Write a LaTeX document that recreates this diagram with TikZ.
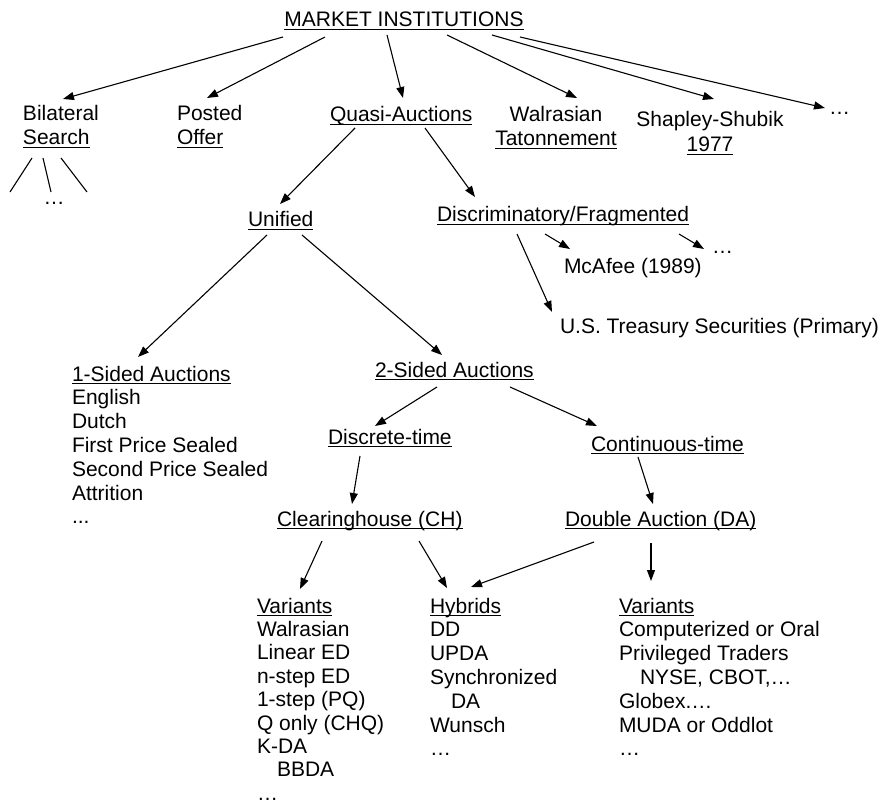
\documentclass[tikz,border=0pt]{standalone}
\usepackage{fontspec}
\setmainfont{Liberation Sans}
\usetikzlibrary{arrows.meta}
\newcommand\myul[1]{\setbox0=\hbox{#1}\rlap{\rule[-3pt]{\wd0}{1.2pt}}\box0}
\begin{document}
\begin{tikzpicture}[x=1pt,y=-1pt,
  t/.style={inner sep=0pt,outer sep=0pt,font=\fontsize{21}{23.8}\selectfont},
  tl/.style={t,anchor=base west,align=left},
  tc/.style={t,anchor=base,align=center},
  arr/.style={line width=1.1pt,-{Triangle[length=11pt,width=8pt]}},
  ln/.style={line width=1.1pt}]
\useasboundingbox (0,0) rectangle (884,805);
% nodes (multi-line bodies are placed at the baseline of their last line)
\node[tc] (mi) at (404,27) {\myul{MARKET INSTITUTIONS}};
\node[tl] (bil) at (23,121) {Bilateral};
\node[tl] (bils) at (23,145) {\myul{Search}};
\node[tl] (post) at (177,121) {Posted};
\node[tl] (posts) at (177,145) {\myul{Offer}};
\node[tl] (quasi) at (330,122) {\myul{Quasi-Auctions}};
\node[tc] (walr) at (556,122) {Walrasian};
\node[tc] (walrs) at (556,146) {\myul{Tatonnement}};
\node[tc] (shap) at (710,127) {Shapley-Shubik};
\node[tc] (shaps) at (710,152) {\myul{1977}};
\node[tl] (dotsa) at (829,115) {…};
\node[tc] (dotsb) at (54,205) {…};
\node[tl] (unif) at (248,227) {\myul{Unified}};
\node[tl] (discr) at (437,222) {\myul{Discriminatory/Fragmented}};
\node[tl] (mcafee) at (564,274) {McAfee (1989)};
\node[tl] (dotsc) at (712,254) {…};
\node[tl] (treas) at (560,334) {U.S. Treasury Securities (Primary)};
\node[tl] (ones) at (72,381) {\myul{1-Sided Auctions}};
\node[tl] (onesb) at (72,523.8) {English\\Dutch\\First Price Sealed\\Second Price Sealed\\Attrition\\...};
\node[tl] (twos) at (375,377) {\myul{2-Sided Auctions}};
\node[tl] (disc) at (328,444) {\myul{Discrete-time}};
\node[tl] (cont) at (591,451) {\myul{Continuous-time}};
\node[tl] (ch) at (277,526) {\myul{Clearinghouse (CH)}};
\node[tl] (da) at (565,526) {\myul{Double Auction (DA)}};
\node[tl] (varl) at (257,613) {\myul{Variants}};
\node[tl,font=\fontsize{21}{23.4}\selectfont] (varlb) at (257,800.2) {Walrasian\\Linear ED\\n-step ED\\1-step (PQ)\\Q only (CHQ)\\K-DA\\\hspace*{20pt}BBDA\\…};
\node[tl] (hyb) at (430,613) {\myul{Hybrids}};
\node[tl] (hybb) at (430,755.8) {DD\\UPDA\\Synchronized\\\hspace*{21pt}DA\\Wunsch\\…};
\node[tl] (varr) at (619,613) {\myul{Variants}};
\node[tl] (varrb) at (619,755.8) {Computerized or Oral\\Privileged Traders\\\hspace*{21pt}NYSE, CBOT,…\\Globex.…\\MUDA or Oddlot\\…};
% free ends of the bilateral search lines
\coordinate (sa) at (10,192);
\coordinate (sb) at (51,192);
\coordinate (sc) at (87,192);
% connectors
\draw[arr] ([shift={(-121,10)}]mi.base) -- ([shift={(40,-22)}]bil.base west);
\draw[arr] ([shift={(-79,10)}]mi.base) -- ([shift={(30,-23)}]post.base west);
\draw[arr] ([shift={(-17,8)}]mi.base) -- ([shift={(73,-24)}]quasi.base west);
\draw[arr] ([shift={(43,8)}]mi.base) -- ([shift={(21,-24)}]walr.base);
\draw[arr] ([shift={(88,8)}]mi.base) -- ([shift={(4,-28)}]shap.base);
\draw[arr] ([shift={(116,10)}]mi.base) -- ([shift={(-4,-7)}]dotsa.base west);
\draw[ln] ([shift={(9,13)}]bils.base west) -- (sa);
\draw[ln] ([shift={(20,13)}]bils.base west) -- (sb);
\draw[ln] ([shift={(38,13)}]bils.base west) -- (sc);
\draw[arr] ([shift={(25,6)}]quasi.base west) -- ([shift={(32,-23)}]unif.base west);
\draw[arr] ([shift={(95,6)}]quasi.base west) -- ([shift={(38,-25)}]discr.base west);
\draw[arr] ([shift={(19,8)}]unif.base west) -- ([shift={(66,-24)}]ones.base west);
\draw[arr] ([shift={(54,8)}]unif.base west) -- ([shift={(67,-22)}]twos.base west);
\draw[arr] ([shift={(80,12)}]discr.base west) -- ([shift={(-8,-22)}]treas.base west);
\draw[arr] ([shift={(108,12)}]discr.base west) -- ([shift={(6,-25)}]mcafee.base west);
\draw[arr] ([shift={(242,12)}]discr.base west) -- ([shift={(-8,-5)}]dotsc.base west);
\draw[arr] ([shift={(62,10)}]twos.base west) -- ([shift={(47,-18)}]disc.base west);
\draw[arr] ([shift={(135,10)}]twos.base west) -- ([shift={(6,-25)}]cont.base west);
\draw[arr] ([shift={(32,12)}]disc.base west) -- ([shift={(75,-22)}]ch.base west);
\draw[arr] ([shift={(47,6)}]cont.base west) -- ([shift={(88,-22)}]da.base west);
\draw[arr] ([shift={(45,15)}]ch.base west) -- ([shift={(43,-24)}]varl.base west);
\draw[arr] ([shift={(142,15)}]ch.base west) -- ([shift={(17,-25)}]hyb.base west);
\draw[arr] ([shift={(29,16)}]da.base west) -- ([shift={(41,-26)}]hyb.base west);
\draw[arr] ([shift={(86,17)}]da.base west) -- ([shift={(32,-32)}]varr.base west);
\end{tikzpicture}
\end{document}
